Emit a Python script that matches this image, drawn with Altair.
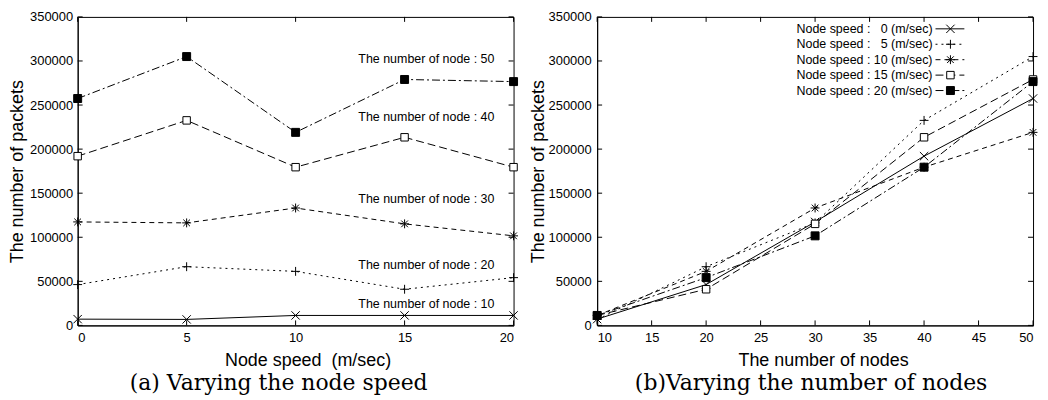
import altair as alt
import pandas as pd

# ---- data ----
speeds = [0, 5, 10, 15, 20]
node_counts = [10, 20, 30, 40, 50]
# packets for each number of nodes, over node speeds 0,5,10,15,20
pk_n10 = [7100, 6800, 11300, 11300, 11300]
pk_n20 = [46300, 66600, 61300, 41000, 54200]
pk_n30 = [117400, 116300, 133200, 115200, 101600]
pk_n40 = [192000, 232600, 179500, 213400, 179500]
pk_n50 = [257400, 305000, 219000, 279000, 276600]
by_nodes = [pk_n10, pk_n20, pk_n30, pk_n40, pk_n50]

node_labels = ["The number of node : 10", "The number of node : 20",
               "The number of node : 30", "The number of node : 40",
               "The number of node : 50"]
label_x = [16, 16, 16, 16, 16]
label_y = [23700, 68900, 143400, 236000, 302600]

legend_labels = ["Node speed : \u00a0\u00a00 (m/sec)", "Node speed : \u00a0\u00a05 (m/sec)",
                 "Node speed : 10 (m/sec)", "Node speed : 15 (m/sec)",
                 "Node speed : 20 (m/sec)"]

left_xticks = [0, 5, 10, 15, 20]
right_xticks = [10, 15, 20, 25, 30, 35, 40, 45, 50]
yticks = [0, 50000, 100000, 150000, 200000, 250000, 300000, 350000]

# ---- styles ----
W, H = 438, 310
FONT = "Liberation Sans"
dashes = [None, [2, 4], [5, 4], [8, 4], [8, 3, 2, 3]]
X_PATH = "M-1,-1L1,1M-1,1L1,-1"
PLUS_PATH = "M-1,0L1,0M0,-1L0,1"
STAR_PATH = "M-1,0L1,0M0,-1L0,1M-0.75,-0.75L0.75,0.75M-0.75,0.75L0.75,-0.75"
point_styles = [
    dict(shape=X_PATH, filled=False, size=70),
    dict(shape=PLUS_PATH, filled=False, size=80),
    dict(shape=STAR_PATH, filled=False, size=80),
    dict(shape="square", filled=True, fill="white", size=56),
    dict(shape="square", filled=True, fill="black", size=64),
]


def series_layers(df, xfield, xscale, yscale, idx):
    d = df[df["s"] == idx]
    line_kw = dict(color="black", strokeWidth=1)
    if dashes[idx] is not None:
        line_kw["strokeDash"] = dashes[idx]
    line = alt.Chart(d).mark_line(**line_kw).encode(
        x=alt.X(f"{xfield}:Q", scale=xscale),
        y=alt.Y("v:Q", scale=yscale),
    )
    ps = dict(point_styles[idx])
    pt = alt.Chart(d).mark_point(stroke="black", strokeWidth=1, opacity=1, **ps).encode(
        x=alt.X(f"{xfield}:Q", scale=xscale),
        y=alt.Y("v:Q", scale=yscale),
    )
    return [line, pt]


def tick_layers(xt, xscale, yscale):
    xdf = pd.DataFrame({"t": xt})
    ydf = pd.DataFrame({"t": yticks})
    L = 5
    return [
        alt.Chart(xdf).mark_rule(color="black").encode(
            x=alt.X("t:Q", scale=xscale), y=alt.value(H), y2=alt.value(H - L)),
        alt.Chart(xdf).mark_rule(color="black").encode(
            x=alt.X("t:Q", scale=xscale), y=alt.value(0), y2=alt.value(L)),
        alt.Chart(ydf).mark_rule(color="black").encode(
            y=alt.Y("t:Q", scale=yscale), x=alt.value(0), x2=alt.value(L)),
        alt.Chart(ydf).mark_rule(color="black").encode(
            y=alt.Y("t:Q", scale=yscale), x=alt.value(W), x2=alt.value(W - L)),
    ]


yscale = alt.Scale(domain=[0, 350000], nice=False, zero=True)

# ---- left panel: vs node speed ----
rows = []
for i, vals in enumerate(by_nodes):
    for sp, v in zip(speeds, vals):
        rows.append({"s": i, "speed": sp, "v": v})
left_df = pd.DataFrame(rows)
lxscale = alt.Scale(domain=[0, 20], nice=False)

left_axes = alt.Chart(left_df).mark_point(opacity=0).encode(
    x=alt.X("speed:Q", scale=lxscale,
            axis=alt.Axis(values=left_xticks, title="Node speed \u00a0(m/sec)",
                          titleX=W / 2 + 12, labelPadding=6, titlePadding=7)),
    y=alt.Y("v:Q", scale=yscale,
            axis=alt.Axis(values=yticks, format="d", title="The number of packets",
                          labelPadding=5, titlePadding=3)),
)
left_layers = [left_axes] + tick_layers(left_xticks, lxscale, yscale)
for i in range(5):
    left_layers += series_layers(left_df, "speed", lxscale, yscale, i)

lab_df = pd.DataFrame({"label": node_labels, "x": label_x, "y": label_y})
left_layers.append(
    alt.Chart(lab_df).mark_text(font=FONT, fontSize=12.5, color="black").encode(
        x=alt.X("x:Q", scale=lxscale), y=alt.Y("y:Q", scale=yscale), text="label:N")
)

left = alt.layer(*left_layers).properties(
    width=W, height=H,
    title=alt.TitleParams("(a) Varying the node speed", orient="bottom",
                          font="DejaVu Serif", fontSize=22, fontWeight="normal",
                          anchor="middle", frame="group", offset=4, dx=-17,
                          color="black"),
)

# ---- right panel: vs number of nodes ----
rows = []
for i in range(5):
    for n, vals in zip(node_counts, by_nodes):
        rows.append({"s": i, "nodes": n, "v": vals[i]})
right_df = pd.DataFrame(rows)
rxscale = alt.Scale(domain=[10, 50], nice=False, zero=False)

right_axes = alt.Chart(right_df).mark_point(opacity=0).encode(
    x=alt.X("nodes:Q", scale=rxscale,
            axis=alt.Axis(values=right_xticks, title="The number of nodes",
                          titleX=W / 2 + 8, labelPadding=6, titlePadding=7)),
    y=alt.Y("v:Q", scale=yscale,
            axis=alt.Axis(values=yticks, format="d", title="The number of packets",
                          labelPadding=6, titlePadding=1)),
)
right_layers = [right_axes] + tick_layers(right_xticks, rxscale, yscale)
for i in range(5):
    right_layers += series_layers(right_df, "nodes", rxscale, yscale, i)

# manual key (text left, sample line + marker right)
for i in range(5):
    ry = 12 + 15.5 * i
    one = pd.DataFrame({"label": [legend_labels[i]]})
    right_layers.append(
        alt.Chart(one).mark_text(font=FONT, fontSize=12.5, align="right",
                                 baseline="middle", color="black").encode(
            x=alt.value(337), y=alt.value(ry), text="label:N"))
    rk = dict(color="black", strokeWidth=1)
    if dashes[i] is not None:
        rk["strokeDash"] = dashes[i]
    right_layers.append(
        alt.Chart(one).mark_rule(**rk).encode(
            x=alt.value(340), x2=alt.value(369), y=alt.value(ry)))
    right_layers.append(
        alt.Chart(one).mark_point(stroke="black", strokeWidth=1, opacity=1,
                                  **point_styles[i]).encode(
            x=alt.value(355), y=alt.value(ry)))

right = alt.layer(*right_layers).properties(
    width=W, height=H,
    title=alt.TitleParams("(b)Varying the number of nodes", orient="bottom",
                          font="DejaVu Serif", fontSize=22, fontWeight="normal",
                          anchor="middle", frame="group", offset=4, dx=-4,
                          color="black"),
)

chart = alt.hconcat(left, right, spacing=8).properties(
    padding={"left": 0, "top": 1, "right": 0, "bottom": 0},
    background="white",
).configure_view(
    stroke="black", strokeWidth=1
).configure_axis(
    grid=False, ticks=False, domainColor="black", domainWidth=1,
    labelFont=FONT, labelFontSize=13, labelColor="black",
    titleFont=FONT, titleFontSize=18, titleFontWeight="normal", titleColor="black",
)

chart.save("out.html", embed_options={"renderer": "svg", "actions": False})
